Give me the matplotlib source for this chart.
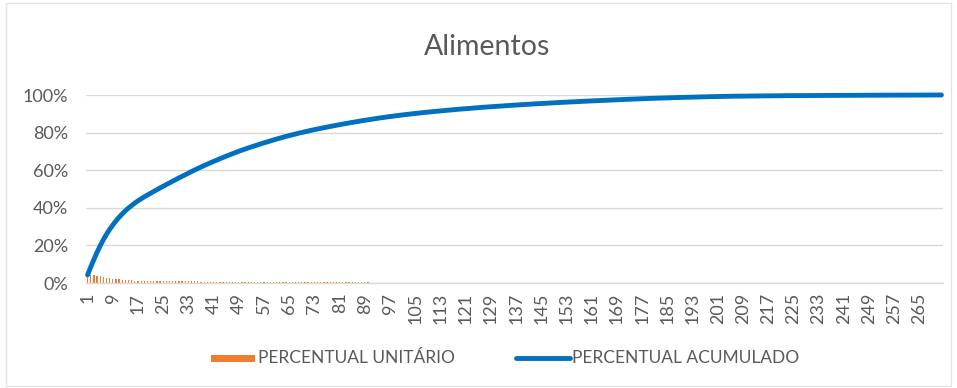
import matplotlib
matplotlib.use("Agg")
import matplotlib.pyplot as plt
from matplotlib.patches import Rectangle
from matplotlib.lines import Line2D
from matplotlib.ticker import FuncFormatter
import numpy as np

plt.rcParams['font.family'] = ['Lato', 'DejaVu Sans']

title = "Alimentos"
legend_unit = "PERCENTUAL UNITÁRIO"
legend_cum = "PERCENTUAL ACUMULADO"

# unit percentages (%) per item, sorted descending (Pareto)
unit_pct = (
    [4.3, 4.2, 4.0, 3.8, 3.5]
    + [3.2, 2.9, 2.6, 2.35]
    + [2.15, 1.95, 1.8, 1.65, 1.5]
    + [1.35, 1.28, 1.18, 1.1, 1.04, 0.95]
    + [0.97, 0.95, 0.93, 0.92, 0.9]
    + [0.9, 0.9, 0.88, 0.88, 0.86, 0.86, 0.85, 0.85, 0.84, 0.84]
    + [0.80, 0.78, 0.76, 0.75, 0.74, 0.72, 0.71, 0.70, 0.69, 0.68, 0.67, 0.66, 0.65, 0.64]
    + [0.60, 0.59, 0.57, 0.56, 0.55, 0.54, 0.53, 0.52, 0.51]
    + [0.52, 0.51, 0.49, 0.48, 0.47, 0.46, 0.44, 0.43, 0.42, 0.41, 0.40, 0.39, 0.38,
       0.37, 0.36, 0.35, 0.35, 0.34, 0.33]
    + [0.33, 0.32, 0.32, 0.31, 0.31, 0.30, 0.30, 0.29, 0.29, 0.28, 0.28, 0.27, 0.27,
       0.26, 0.26, 0.25]
    + [0.25, 0.24, 0.24, 0.23, 0.22, 0.22, 0.21, 0.21, 0.20, 0.20, 0.19, 0.19, 0.18,
       0.18, 0.17, 0.17]
    + [0.17, 0.17, 0.16, 0.16, 0.16, 0.15, 0.15, 0.15, 0.15, 0.14, 0.14, 0.14, 0.14,
       0.13, 0.13, 0.13]
    + [0.13] * 2 + [0.12] * 5 + [0.11] * 6 + [0.10] * 8 + [0.09] * 8 + [0.08] * 8
    + [0.08] * 5 + [0.07] * 8 + [0.06] * 9 + [0.05] * 9 + [0.04] * 8
    + [0.03] * 5 + [0.02] * 12 + [0.01] * 27 + [0.005] * 24 + [0.002] * 3
)
categories = list(range(1, len(unit_pct) + 1))
cum_pct = list(np.cumsum(unit_pct))
tick_labels = [str(c) for c in categories[::8]]

ORANGE = "#ED7D31"
BLUE = "#0070C0"
GRAY_TXT = "#595959"
GRID = "#D9D9D9"

W, H = 957, 388
fig = plt.figure(figsize=(W / 100, H / 100), dpi=100)
ax = fig.add_axes([86 / W, 1 - 283 / H, (943 - 86) / W, (283 - 95) / H])

x = np.arange(len(categories))
ax.bar(x, unit_pct, width=0.4, color=ORANGE, zorder=2)
ax.plot(x, cum_pct, color=BLUE, lw=3.5, solid_capstyle='round', zorder=3, clip_on=False)

ax.set_xlim(-0.5, len(categories) - 0.5)
ax.set_ylim(0, 100)
ax.set_yticks(range(0, 101, 20))
ax.yaxis.set_major_formatter(FuncFormatter(lambda v, p: f"{int(v)}%"))
ax.set_xticks(x[::8])
ax.set_xticklabels(tick_labels, rotation=90)
ax.grid(axis='y', color=GRID, lw=1.0, zorder=0)
ax.set_axisbelow(True)
for s in ['top', 'right', 'left']:
    ax.spines[s].set_visible(False)
ax.spines['bottom'].set_color(GRID)
ax.spines['bottom'].set_linewidth(1.0)
ax.tick_params(axis='both', length=0, colors=GRAY_TXT, labelsize=13)
ax.tick_params(axis='y', pad=13)
ax.tick_params(axis='x', pad=7)

fig.text(487 / W, 1 - 47 / H, title, ha='center', va='center', fontsize=20.5, color=GRAY_TXT)

ly = 1 - 358 / H
fig.add_artist(Rectangle((211 / W, ly - 3.5 / H), 44 / W, 7 / H, transform=fig.transFigure,
                         color=ORANGE, lw=0))
fig.text(258 / W, ly, legend_unit, ha='left', va='center', fontsize=12.5, color=GRAY_TXT)
fig.add_artist(Line2D([516 / W, 570 / W], [ly, ly], transform=fig.transFigure,
                      color=BLUE, lw=3.5, solid_capstyle='round'))
fig.text(572 / W, ly, legend_cum, ha='left', va='center', fontsize=12.5, color=GRAY_TXT)

fig.add_artist(Rectangle((6 / W, 2 / H), (W - 12) / W, (H - 5) / H, transform=fig.transFigure,
                         fill=False, edgecolor="#E3E3E3", lw=1))

fig.savefig("out.png", dpi=100, facecolor='white')
